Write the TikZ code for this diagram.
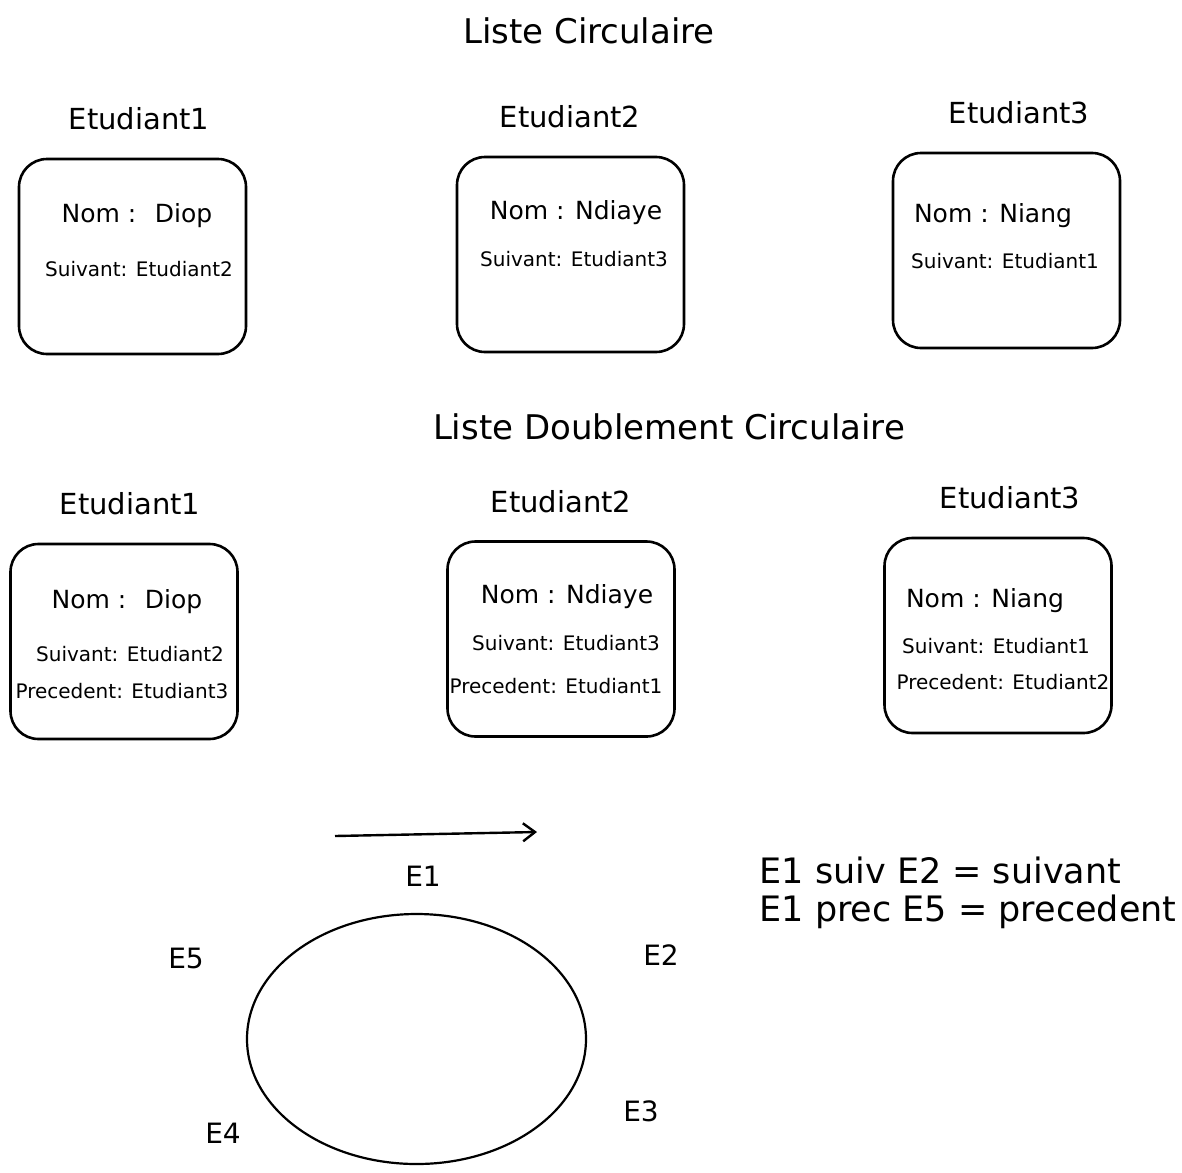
\documentclass[tikz,border=0pt]{standalone}
\usepackage{fontspec}
\setmainfont{DejaVu Sans}
\usetikzlibrary{shapes.geometric,arrows.meta}

\tikzset{
    titre/.style={font=\fontsize{34}{40}\selectfont},
    etud/.style={font=\fontsize{29}{34}\selectfont},
    nom/.style={font=\fontsize{25}{30}\selectfont},
    champ/.style={font=\fontsize{20}{24}\selectfont},
    boite/.style={draw, line width=2.6pt, rounded corners=28pt, minimum width=227pt, minimum height=195pt},
    elem/.style={font=\fontsize{28}{32}\selectfont},
    regle/.style={font=\fontsize{35}{40}\selectfont, anchor=west},
}

\begin{document}
\begin{tikzpicture}[x=1pt, y=-1pt]

    \useasboundingbox (0,0) rectangle (1182,1172);

    % liste circulaire
    \node [titre] (t1) at (589,31) {Liste Circulaire};

    \node [boite] (c1) at (132.5,256.5) {};
    \node [etud] (e11) at (139,119) {Etudiant1};
    \node [nom] (n11) at (137,216) {Nom :~ Diop};
    \node [champ] (s11) at (139,269) {Suivant: Etudiant2};

    \node [boite] (c2) at (570.5,254.5) {};
    \node [etud] (e12) at (570,117) {Etudiant2};
    \node [nom] (n12) at (576,213) {Nom : Ndiaye};
    \node [champ] (s12) at (574,259) {Suivant: Etudiant3};

    \node [boite] (c3) at (1006.5,250.5) {};
    \node [etud] (e13) at (1019,113) {Etudiant3};
    \node [nom] (n13) at (993,216) {Nom : Niang};
    \node [champ] (s13) at (1005,261) {Suivant: Etudiant1};

    % liste doublement circulaire
    \node [titre] (t2) at (669,427) {Liste Doublement Circulaire};

    \node [boite] (d1) at (124,641.5) {};
    \node [etud] (e21) at (130,504) {Etudiant1};
    \node [nom] (n21) at (127,602) {Nom :~ Diop};
    \node [champ] (s21) at (130,654) {Suivant: Etudiant2};
    \node [champ] (p21) at (122,691) {Precedent: Etudiant3};

    \node [boite] (d2) at (561,639) {};
    \node [etud] (e22) at (561,502) {Etudiant2};
    \node [nom] (n22) at (567,597) {Nom : Ndiaye};
    \node [champ] (s22) at (566,643) {Suivant: Etudiant3};
    \node [champ] (p22) at (556,686) {Precedent: Etudiant1};

    \node [boite] (d3) at (998,635.5) {};
    \node [etud] (e23) at (1010,498) {Etudiant3};
    \node [nom] (n23) at (985,601) {Nom : Niang};
    \node [champ] (s23) at (996,646) {Suivant: Etudiant1};
    \node [champ] (p23) at (1003,682) {Precedent: Etudiant2};

    % schema
    \coordinate (fa) at (335,836);
    \coordinate (fb) at (537,832);
    \draw [line width=2.4pt, -{Straight Barb[length=12pt, width=18pt, line width=2.4pt]}] (fa) -- (fb);

    \node [draw, ellipse, line width=2.2pt, minimum width=339pt, minimum height=250pt] (anneau) at (416.5,1039) {};

    \node [elem] (E1) at (423,876) {E1};
    \node [elem] (E2) at (661,955) {E2};
    \node [elem] (E3) at (641,1111) {E3};
    \node [elem] (E4) at (223,1133) {E4};
    \node [elem] (E5) at (186,958) {E5};

    \node [regle] (r1) at (756,870) {E1 suiv E2 = suivant};
    \node [regle] (r2) at (756,912) {E1 prec E5 = precedent};

\end{tikzpicture}
\end{document}
